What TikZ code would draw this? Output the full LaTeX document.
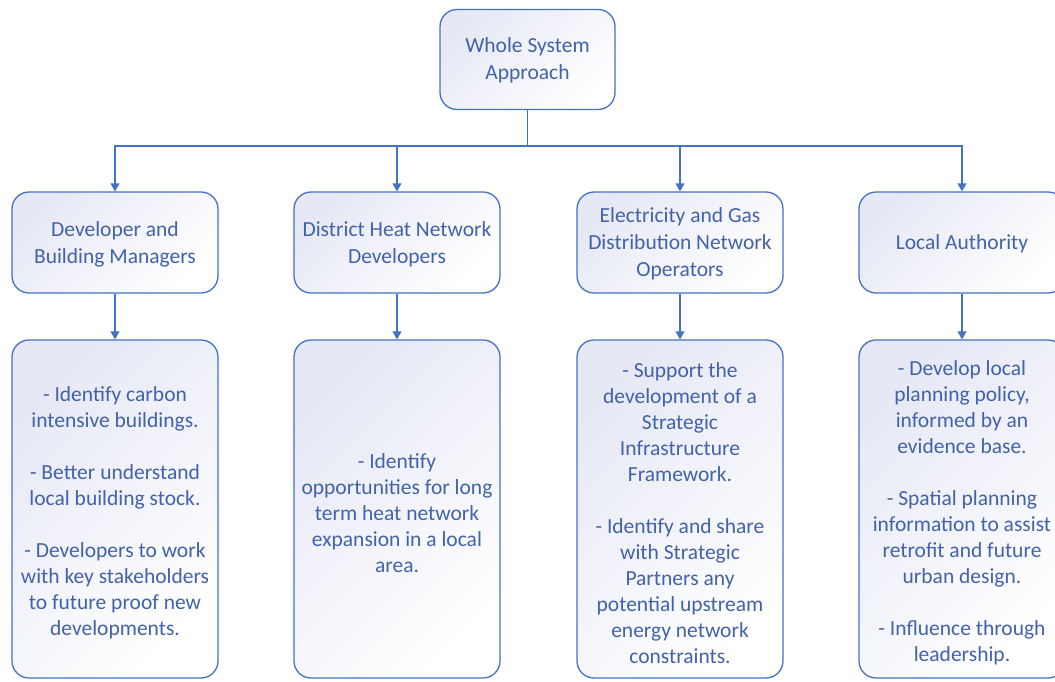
\documentclass[tikz,border=0pt]{standalone}
\usepackage{fontspec}
\setmainfont{Carlito}
\usetikzlibrary{arrows.meta}
\definecolor{lineblue}{HTML}{4472C4}
\definecolor{txtblue}{HTML}{4262AA}
\definecolor{lav}{HTML}{E6E8F5}
\begin{document}
\begin{tikzpicture}[x=1pt,y=-1pt,
  box/.style={draw=lineblue, line width=1.3pt, rounded corners=17pt,
    top color=lav, bottom color=white, shading angle=45, inner sep=0pt},
  lvtwo/.style={box, minimum width=206pt, minimum height=101pt},
  lvthree/.style={box, minimum width=206pt, minimum height=338pt},
  txt/.style={text=txtblue, align=center, inner sep=0pt, font=\fontsize{21.5}{27}\selectfont},
  txtthree/.style={txt, font=\fontsize{21.5}{26}\selectfont},
  conn/.style={draw=lineblue, line width=1.3pt},
  arr/.style={conn, -{Triangle[width=9pt,length=8pt]}}]
\useasboundingbox (0,0) rectangle (1055,681);
\fill[white] (0,0) rectangle (1055,681);

\node[box, minimum width=175pt, minimum height=100pt] (top) at (527.5,59.5) {};
\node[txt, yshift=-1pt] (ttop) at (top.center) {Whole System\\Approach};

\node[lvtwo] (d1) at (115,242.5) {};
\node[lvtwo] (d2) at (397,242.5) {};
\node[lvtwo] (d3) at (680,242.5) {};
\node[lvtwo] (d4) at (962,242.5) {};
\node[txt, yshift=-1.5pt] (td1) at (d1.center) {Developer and\\Building Managers};
\node[txt, yshift=-1.5pt] (td2) at (d2.center) {District Heat Network\\Developers};
\node[txt, yshift=-1.5pt] (td3) at (d3.center) {Electricity and Gas\\Distribution Network\\Operators};
\node[txt, yshift=-1.5pt] (td4) at (d4.center) {Local Authority};

\node[lvthree] (r1) at (115,509) {};
\node[lvthree] (r2) at (397,509) {};
\node[lvthree] (r3) at (680,509) {};
\node[lvthree] (r4) at (962,509) {};
\node[txtthree, yshift=-4pt] (tr1) at (r1.center) {- Identify carbon\\intensive buildings.\\[26pt]- Better understand\\local building stock.\\[26pt]- Developers to work\\with key stakeholders\\to future proof new\\developments.};
\node[txtthree, yshift=-4pt] (tr2) at (r2.center) {- Identify\\opportunities for long\\term heat network\\expansion in a local\\area.};
\node[txtthree, yshift=-4pt] (tr3) at (r3.center) {- Support the\\development of a\\Strategic\\Infrastructure\\Framework.\\[26pt]- Identify and share\\with Strategic\\Partners any\\potential upstream\\energy network\\constraints.};
\node[txtthree, yshift=-4pt] (tr4) at (r4.center) {- Develop local\\planning policy,\\informed by an\\evidence base.\\[26pt]- Spatial planning\\information to assist\\retrofit and future\\urban design.\\[26pt]- Influence through\\leadership.};

\coordinate (j) at (527.5,146);
\draw[conn] (top.south) -- (j);
\draw[arr] (j) -| (d1.north);
\draw[arr] (j) -| (d2.north);
\draw[arr] (j) -| (d3.north);
\draw[arr] (j) -| (d4.north);

\draw[arr] (d1.south) -- (r1.north);
\draw[arr] (d2.south) -- (r2.north);
\draw[arr] (d3.south) -- (r3.north);
\draw[arr] (d4.south) -- (r4.north);
\end{tikzpicture}
\end{document}
